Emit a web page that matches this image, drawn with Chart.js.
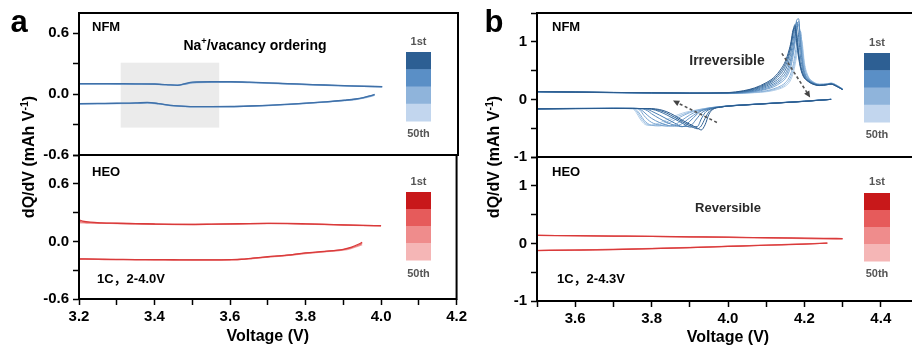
<!DOCTYPE html>
<html>
<head>
<meta charset="utf-8">
<script src="https://cdn.jsdelivr.net/npm/chart.js@4.4.1/dist/chart.umd.min.js"></script>
<style>
html, body { margin: 0; padding: 0; background: #fff; overflow: hidden; }
#wrap { position: relative; width: 912px; height: 349px; overflow: hidden; background: #fff; }
canvas { position: absolute; top: 0; }
</style>
</head>
<body>
<div id="wrap">
  <canvas id="aTop" width="470" height="175" style="left:0px"></canvas>
  <canvas id="aBot" width="470" height="349" style="left:0px"></canvas>
  <canvas id="bTop" width="470" height="175" style="left:460px"></canvas>
  <canvas id="bBot" width="470" height="349" style="left:460px"></canvas>
</div>
<script>
// ---------- (a) 2-4.0 V window ----------
const aVoltCharge = [3.20, 3.25, 3.30, 3.35, 3.40, 3.43, 3.46, 3.48, 3.50, 3.55, 3.60, 3.65, 3.70, 3.75, 3.80, 3.85, 3.90, 3.95, 4.00];
const aNfmCharge1  = [0.104, 0.104, 0.103, 0.102, 0.100, 0.094, 0.086, 0.104, 0.118, 0.122, 0.122, 0.118, 0.111, 0.104, 0.097, 0.090, 0.084, 0.078, 0.074];
const aNfmCharge25 = [0.101, 0.101, 0.100, 0.100, 0.098, 0.093, 0.088, 0.100, 0.115, 0.120, 0.120, 0.116, 0.109, 0.102, 0.095, 0.088, 0.082, 0.077, 0.073];
const aNfmCharge50 = [0.098, 0.098, 0.098, 0.097, 0.096, 0.092, 0.089, 0.097, 0.111, 0.117, 0.118, 0.114, 0.107, 0.100, 0.093, 0.087, 0.081, 0.076, 0.072];

const aVoltDischarge = [3.20, 3.25, 3.30, 3.35, 3.38, 3.41, 3.44, 3.48, 3.55, 3.60, 3.65, 3.70, 3.75, 3.80, 3.85, 3.90, 3.93, 3.95, 3.97, 3.98];
const aNfmDischarge1  = [-0.094, -0.092, -0.090, -0.087, -0.082, -0.093, -0.110, -0.120, -0.123, -0.122, -0.117, -0.110, -0.100, -0.089, -0.076, -0.060, -0.048, -0.034, -0.014, -0.003];
const aNfmDischarge25 = [-0.096, -0.094, -0.092, -0.089, -0.085, -0.094, -0.111, -0.121, -0.124, -0.123, -0.118, -0.111, -0.101, -0.090, -0.077, -0.062, -0.050, -0.037, -0.018, -0.006];
const aNfmDischarge50 = [-0.098, -0.096, -0.094, -0.091, -0.088, -0.096, -0.112, -0.122, -0.125, -0.124, -0.119, -0.112, -0.102, -0.091, -0.079, -0.064, -0.053, -0.040, -0.022, -0.010];

const aHeoVoltCharge = [3.20, 3.21, 3.23, 3.26, 3.30, 3.35, 3.40, 3.45, 3.50, 3.55, 3.60, 3.65, 3.70, 3.75, 3.80, 3.85, 3.90, 3.95, 4.00];
const aHeoCharge1  = [0.225, 0.212, 0.200, 0.193, 0.189, 0.185, 0.181, 0.178, 0.177, 0.179, 0.182, 0.186, 0.188, 0.187, 0.183, 0.178, 0.172, 0.167, 0.164];
const aHeoCharge25 = [0.208, 0.202, 0.195, 0.191, 0.187, 0.184, 0.180, 0.177, 0.176, 0.178, 0.181, 0.185, 0.187, 0.186, 0.182, 0.177, 0.171, 0.166, 0.163];
const aHeoCharge50 = [0.195, 0.193, 0.190, 0.188, 0.186, 0.183, 0.179, 0.176, 0.175, 0.177, 0.180, 0.184, 0.186, 0.185, 0.181, 0.176, 0.170, 0.165, 0.162];

const aHeoVoltDischarge = [3.20, 3.25, 3.30, 3.35, 3.40, 3.45, 3.50, 3.55, 3.60, 3.63, 3.66, 3.70, 3.75, 3.80, 3.85, 3.90, 3.92, 3.94, 3.95];
const aHeoDischarge1  = [-0.182, -0.185, -0.187, -0.189, -0.190, -0.191, -0.192, -0.192, -0.190, -0.186, -0.174, -0.160, -0.143, -0.120, -0.103, -0.082, -0.062, -0.030, -0.010];
const aHeoDischarge25 = [-0.184, -0.187, -0.189, -0.190, -0.191, -0.192, -0.193, -0.193, -0.191, -0.187, -0.176, -0.162, -0.145, -0.123, -0.106, -0.086, -0.068, -0.040, -0.022];
const aHeoDischarge50 = [-0.186, -0.188, -0.190, -0.191, -0.192, -0.193, -0.194, -0.194, -0.192, -0.188, -0.178, -0.164, -0.147, -0.126, -0.109, -0.090, -0.074, -0.050, -0.035];

// ---------- (b) 2-4.3 V window ----------
const bVoltCharge = [3.50, 3.60, 3.70, 3.80, 3.90, 4.00, 4.04, 4.07, 4.10, 4.12, 4.14, 4.15, 4.16, 4.165, 4.17, 4.175, 4.18, 4.185, 4.19, 4.195, 4.20, 4.21, 4.22, 4.24, 4.26, 4.27, 4.28, 4.30];
const bNfmCharge1  = [0.135, 0.128, 0.121, 0.115, 0.110, 0.118, 0.150, 0.200, 0.290, 0.380, 0.540, 0.660, 0.860, 1.000, 1.200, 1.240, 0.980, 0.720, 0.540, 0.430, 0.370, 0.310, 0.270, 0.240, 0.255, 0.265, 0.240, 0.170];
const bNfmCharge5  = [0.135, 0.128, 0.121, 0.115, 0.109, 0.115, 0.142, 0.188, 0.270, 0.355, 0.500, 0.620, 0.810, 0.960, 1.160, 1.280, 1.060, 0.770, 0.570, 0.450, 0.380, 0.315, 0.275, 0.242, 0.256, 0.266, 0.242, 0.171];
const bNfmCharge10 = [0.134, 0.127, 0.120, 0.114, 0.108, 0.112, 0.135, 0.175, 0.250, 0.330, 0.460, 0.570, 0.760, 0.920, 1.120, 1.300, 1.150, 0.820, 0.600, 0.470, 0.390, 0.320, 0.280, 0.245, 0.258, 0.268, 0.245, 0.172];
const bNfmCharge15 = [0.133, 0.126, 0.120, 0.113, 0.107, 0.110, 0.128, 0.162, 0.230, 0.300, 0.410, 0.510, 0.680, 0.820, 1.010, 1.220, 1.340, 1.080, 0.720, 0.530, 0.420, 0.330, 0.285, 0.248, 0.260, 0.270, 0.248, 0.173];
const bNfmCharge20 = [0.133, 0.126, 0.119, 0.113, 0.107, 0.108, 0.122, 0.150, 0.210, 0.270, 0.370, 0.450, 0.600, 0.720, 0.900, 1.120, 1.380, 1.400, 0.900, 0.600, 0.450, 0.340, 0.290, 0.250, 0.262, 0.272, 0.250, 0.175];
const bNfmCharge25 = [0.132, 0.125, 0.118, 0.112, 0.106, 0.106, 0.118, 0.142, 0.190, 0.245, 0.335, 0.400, 0.540, 0.650, 0.820, 1.030, 1.290, 1.350, 0.980, 0.650, 0.470, 0.350, 0.295, 0.252, 0.263, 0.274, 0.252, 0.176];
const bNfmCharge30 = [0.132, 0.125, 0.118, 0.112, 0.106, 0.105, 0.115, 0.135, 0.175, 0.220, 0.300, 0.360, 0.480, 0.580, 0.740, 0.950, 1.200, 1.300, 1.050, 0.700, 0.500, 0.360, 0.300, 0.255, 0.265, 0.275, 0.255, 0.178];
const bNfmCharge40 = [0.131, 0.124, 0.117, 0.111, 0.105, 0.103, 0.110, 0.125, 0.150, 0.185, 0.240, 0.290, 0.380, 0.460, 0.580, 0.760, 0.980, 1.150, 1.180, 0.820, 0.560, 0.380, 0.310, 0.260, 0.268, 0.280, 0.260, 0.180];
const bNfmCharge45 = [0.130, 0.123, 0.116, 0.110, 0.104, 0.102, 0.108, 0.120, 0.140, 0.170, 0.215, 0.258, 0.330, 0.400, 0.500, 0.660, 0.860, 1.040, 1.120, 0.880, 0.600, 0.390, 0.315, 0.262, 0.270, 0.282, 0.262, 0.181];
const bNfmCharge50 = [0.130, 0.123, 0.116, 0.110, 0.104, 0.101, 0.106, 0.116, 0.132, 0.155, 0.195, 0.230, 0.290, 0.350, 0.440, 0.580, 0.760, 0.940, 1.080, 0.950, 0.640, 0.400, 0.320, 0.265, 0.272, 0.285, 0.265, 0.182];

const bVoltDischarge = [3.50, 3.60, 3.70, 3.75, 3.76, 3.77, 3.78, 3.79, 3.80, 3.82, 3.84, 3.86, 3.88, 3.90, 3.92, 3.93, 3.94, 3.95, 3.96, 3.98, 4.00, 4.05, 4.10, 4.15, 4.20, 4.24, 4.27];
const bNfmDischarge1  = [-0.165, -0.160, -0.157, -0.157, -0.157, -0.158, -0.158, -0.159, -0.160, -0.175, -0.215, -0.280, -0.360, -0.430, -0.500, -0.530, -0.440, -0.260, -0.175, -0.135, -0.118, -0.095, -0.075, -0.055, -0.035, -0.015, 0.000];
const bNfmDischarge5  = [-0.164, -0.160, -0.157, -0.157, -0.157, -0.158, -0.158, -0.160, -0.165, -0.190, -0.240, -0.310, -0.385, -0.455, -0.510, -0.460, -0.330, -0.215, -0.165, -0.134, -0.117, -0.094, -0.074, -0.054, -0.034, -0.014, 0.000];
const bNfmDischarge10 = [-0.164, -0.159, -0.156, -0.156, -0.157, -0.158, -0.159, -0.162, -0.170, -0.210, -0.270, -0.340, -0.410, -0.480, -0.470, -0.340, -0.230, -0.180, -0.155, -0.132, -0.116, -0.094, -0.074, -0.054, -0.034, -0.014, 0.000];
const bNfmDischarge15 = [-0.163, -0.159, -0.156, -0.156, -0.157, -0.159, -0.163, -0.175, -0.205, -0.270, -0.340, -0.410, -0.470, -0.460, -0.320, -0.240, -0.195, -0.168, -0.150, -0.131, -0.115, -0.093, -0.073, -0.053, -0.033, -0.013, 0.000];
const bNfmDischarge20 = [-0.163, -0.158, -0.156, -0.156, -0.157, -0.160, -0.170, -0.200, -0.250, -0.330, -0.400, -0.450, -0.475, -0.380, -0.250, -0.200, -0.175, -0.158, -0.146, -0.130, -0.114, -0.093, -0.073, -0.053, -0.033, -0.013, 0.001];
const bNfmDischarge25 = [-0.162, -0.158, -0.155, -0.156, -0.158, -0.170, -0.220, -0.280, -0.330, -0.400, -0.450, -0.465, -0.420, -0.320, -0.230, -0.192, -0.172, -0.156, -0.144, -0.129, -0.114, -0.092, -0.072, -0.052, -0.032, -0.012, 0.001];
const bNfmDischarge30 = [-0.162, -0.157, -0.155, -0.156, -0.160, -0.190, -0.280, -0.350, -0.400, -0.445, -0.465, -0.440, -0.360, -0.270, -0.205, -0.185, -0.168, -0.154, -0.143, -0.128, -0.113, -0.092, -0.072, -0.052, -0.032, -0.012, 0.001];
const bNfmDischarge40 = [-0.161, -0.156, -0.155, -0.158, -0.180, -0.260, -0.360, -0.420, -0.450, -0.460, -0.430, -0.360, -0.290, -0.230, -0.190, -0.175, -0.162, -0.150, -0.140, -0.126, -0.112, -0.091, -0.071, -0.051, -0.031, -0.011, 0.002];
const bNfmDischarge45 = [-0.160, -0.156, -0.155, -0.160, -0.200, -0.300, -0.390, -0.440, -0.450, -0.440, -0.390, -0.320, -0.265, -0.218, -0.185, -0.171, -0.159, -0.148, -0.139, -0.125, -0.111, -0.090, -0.070, -0.050, -0.030, -0.010, 0.002];
const bNfmDischarge50 = [-0.160, -0.155, -0.155, -0.165, -0.230, -0.340, -0.420, -0.450, -0.445, -0.410, -0.350, -0.290, -0.240, -0.205, -0.180, -0.168, -0.157, -0.147, -0.138, -0.125, -0.111, -0.090, -0.070, -0.050, -0.030, -0.010, 0.002];

const bHeoVoltCharge = [3.50, 3.60, 3.70, 3.80, 3.90, 4.00, 4.10, 4.20, 4.25, 4.30];
const bHeoCharge1  = [0.140, 0.134, 0.128, 0.122, 0.115, 0.108, 0.100, 0.092, 0.088, 0.085];
const bHeoCharge25 = [0.139, 0.133, 0.127, 0.121, 0.114, 0.106, 0.097, 0.087, 0.082, 0.078];
const bHeoCharge50 = [0.138, 0.132, 0.126, 0.120, 0.112, 0.104, 0.094, 0.082, 0.076, 0.072];

const bHeoVoltDischarge = [3.50, 3.60, 3.70, 3.80, 3.90, 4.00, 4.10, 4.20, 4.26];
const bHeoDischarge1  = [-0.125, -0.117, -0.107, -0.092, -0.074, -0.053, -0.032, -0.012, 0.004];
const bHeoDischarge25 = [-0.123, -0.115, -0.105, -0.090, -0.072, -0.051, -0.030, -0.010, 0.005];
const bHeoDischarge50 = [-0.121, -0.113, -0.103, -0.088, -0.070, -0.049, -0.028, -0.008, 0.006];

// cycle colour ramps (1st -> 50th)
const blueBar = ['#2d5f93', '#5a8fc6', '#8fb4db', '#c2d6ee'];
const redBar  = ['#c8181a', '#e65b5b', '#ef8c8c', '#f5b6b6'];
const blue3 = ['#3f70a8', '#6f9acb', '#9dbde0'];
const red3  = ['#d93a3a', '#e86c6c', '#f2a4a4'];
const blue10 = ['#2a5a8d', '#336698', '#3d72a5', '#4a7eb1', '#578abc', '#6696c6', '#76a3cf', '#88b0d8', '#9cbfe1', '#b4cfe9'];

const FONT = '"Liberation Sans", Arial, "Noto Sans CJK SC", sans-serif';
Chart.defaults.font.family = FONT;
Chart.defaults.font.weight = 'bold';
Chart.defaults.color = '#000';

function pts(xs, ys) { return xs.map((x, i) => ({ x: x, y: ys[i] })); }
function series(xs, list, colors, width) {
  return list.map((ys, i) => ({
    data: pts(xs, ys), borderColor: colors[i], borderWidth: width,
    pointRadius: 0, fill: false, cubicInterpolationMode: 'monotone'
  }));
}

// rich text: segments may be raised as superscripts
function drawRich(ctx, segs, x, y, size, color, align, rot) {
  const parts = segs.map(g => {
    const fs = g.sup ? size * 0.66 : size;
    ctx.font = 'bold ' + fs + 'px ' + FONT;
    return { g: g, fs: fs, w: ctx.measureText(g.s).width };
  });
  const total = parts.reduce((s, p) => s + p.w, 0);
  let cx = align === 'center' ? -total / 2 : (align === 'right' ? -total : 0);
  ctx.save();
  ctx.translate(x, y);
  if (rot) ctx.rotate(rot);
  ctx.fillStyle = color;
  ctx.textAlign = 'left';
  ctx.textBaseline = 'alphabetic';
  for (const p of parts) {
    ctx.font = 'bold ' + p.fs + 'px ' + FONT;
    ctx.fillText(p.g.s, cx, p.g.sup ? -size * 0.4 : 0);
    cx += p.w;
  }
  ctx.restore();
}

function arrow(ctx, x1, y1, x2, y2) {
  const ang = Math.atan2(y2 - y1, x2 - x1), head = 7;
  ctx.save();
  ctx.strokeStyle = '#555'; ctx.fillStyle = '#444'; ctx.lineWidth = 1.6;
  ctx.setLineDash([3, 2.5]);
  ctx.beginPath();
  ctx.moveTo(x1, y1);
  ctx.lineTo(x2 - Math.cos(ang) * head * 0.8, y2 - Math.sin(ang) * head * 0.8);
  ctx.stroke();
  ctx.setLineDash([]);
  ctx.beginPath();
  ctx.moveTo(x2, y2);
  ctx.lineTo(x2 - head * Math.cos(ang - 0.45), y2 - head * Math.sin(ang - 0.45));
  ctx.lineTo(x2 - head * Math.cos(ang + 0.45), y2 - head * Math.sin(ang + 0.45));
  ctx.closePath();
  ctx.fill();
  ctx.restore();
}

const decor = {
  id: 'decor',
  beforeDatasetsDraw(chart, args, o) {
    if (!o.box) return;
    const ctx = chart.ctx, xs = chart.scales.x, ys = chart.scales.y;
    const l = xs.getPixelForValue(o.box.x0), r = xs.getPixelForValue(o.box.x1);
    const t = ys.getPixelForValue(o.box.y1), b = ys.getPixelForValue(o.box.y0);
    ctx.save();
    ctx.fillStyle = '#ebebeb';
    ctx.fillRect(l, t, r - l, b - t);
    ctx.restore();
  },
  afterDraw(chart, args, o) {
    const ctx = chart.ctx, a = chart.chartArea, dx = o.dx || 0;
    ctx.save();
    ctx.strokeStyle = '#000';
    ctx.lineWidth = 2;
    ctx.strokeRect(a.left, a.top, a.right - a.left, a.bottom - a.top);
    ctx.restore();
    if (o.bar) {
      const bh = o.bar.h / o.bar.colors.length;
      o.bar.colors.forEach((c, i) => {
        ctx.fillStyle = c;
        ctx.fillRect(o.bar.x - dx, o.bar.y + i * bh, o.bar.w, bh + 0.5);
      });
    }
    (o.arrows || []).forEach(ar => {
      const xs = chart.scales.x, ys = chart.scales.y;
      arrow(ctx, xs.getPixelForValue(ar.from[0]), ys.getPixelForValue(ar.from[1]),
                 xs.getPixelForValue(ar.to[0]), ys.getPixelForValue(ar.to[1]));
    });
    (o.texts || []).forEach(t => {
      drawRich(ctx, t.segs, t.x - dx, t.y, t.size, t.color || '#000', t.align || 'left', t.rot || 0);
    });
  }
};

function makePanel(id, opt) {
  const xTicks = {
    stepSize: 0.1, autoSkip: false, maxRotation: 0, padding: 3,
    font: { size: 15, weight: 'bold' }, color: '#000',
    callback: v => { const k = Math.round(v * 10); return k % 2 === 0 ? (k / 10).toFixed(1) : ''; }
  };
  return new Chart(document.getElementById(id), {
    type: 'line',
    data: { datasets: opt.datasets },
    options: {
      responsive: false, animation: false, devicePixelRatio: 1,
      layout: { padding: opt.padding },
      plugins: { legend: { display: false }, tooltip: { enabled: false }, decor: opt.decor },
      scales: {
        x: {
          type: 'linear', min: opt.xMin, max: opt.xMax, display: opt.showX,
          afterFit: s => { s.height = opt.xHeight || 0; },
          ticks: xTicks,
          grid: { display: true, drawOnChartArea: false, drawTicks: true, tickLength: 6, tickWidth: 1.5, tickColor: '#000' },
          border: { display: false },
          title: { display: true, text: 'Voltage (V)', color: '#000', font: { size: 16, weight: 'bold' }, padding: { top: 0, bottom: opt.titlePad || 3 } }
        },
        y: {
          type: 'linear', min: opt.yMin, max: opt.yMax,
          afterFit: s => { s.width = opt.yWidth; },
          ticks: {
            stepSize: opt.yStep, includeBounds: false, autoSkip: false, padding: 4,
            font: { size: 15, weight: 'bold' }, color: '#000', callback: opt.yLabel
          },
          grid: { display: true, drawOnChartArea: false, drawTicks: true, tickLength: 6, tickWidth: 1.5, tickColor: '#000' },
          border: { display: false }
        }
      }
    },
    plugins: [decor]
  });
}

const aYLabel = v => { const k = Math.round(v / 0.3); return k % 2 === 0 ? v.toFixed(1) : ''; };
const bYLabel = v => { const k = Math.round(v * 2); return k % 2 === 0 ? String(Math.round(v)) : ''; };
const gray = '#555';

// (a) NFM
makePanel('aTop', {
  datasets: series(aVoltCharge, [aNfmCharge1, aNfmCharge25, aNfmCharge50], blue3, 1.3)
    .concat(series(aVoltDischarge, [aNfmDischarge1, aNfmDischarge25, aNfmDischarge50], blue3, 1.3)),
  xMin: 3.2, xMax: 4.2, yMin: -0.6, yMax: 0.8, yStep: 0.3, yLabel: aYLabel,
  showX: false, yWidth: 79, padding: { top: 13, right: 12, bottom: 20, left: 0 },
  decor: {
    dx: 0,
    box: { x0: 3.31, x1: 3.57, y0: -0.33, y1: 0.31 },
    bar: { x: 406, y: 52, w: 25, h: 69, colors: blueBar },
    texts: [
      { segs: [{ s: 'NFM' }], x: 92, y: 31, size: 13 },
      { segs: [{ s: 'Na' }, { s: '+', sup: true }, { s: '/vacancy ordering' }], x: 255, y: 50, size: 14, align: 'center' },
      { segs: [{ s: '1st' }], x: 418.5, y: 45, size: 11, align: 'center', color: gray },
      { segs: [{ s: '50th' }], x: 418.5, y: 137, size: 11, align: 'center', color: gray }
    ]
  }
});

// (a) HEO
makePanel('aBot', {
  datasets: series(aHeoVoltCharge, [aHeoCharge1, aHeoCharge25, aHeoCharge50], red3, 1.3)
    .concat(series(aHeoVoltDischarge, [aHeoDischarge1, aHeoDischarge25, aHeoDischarge50], red3, 1.3)),
  xMin: 3.2, xMax: 4.2, yMin: -0.6, yMax: 0.9, yStep: 0.3, yLabel: aYLabel,
  showX: true, xHeight: 50, titlePad: 3, yWidth: 79, padding: { top: 155, right: 12, bottom: 0, left: 0 },
  decor: {
    dx: 0,
    bar: { x: 406, y: 192, w: 25, h: 68, colors: redBar },
    texts: [
      { segs: [{ s: 'a' }], x: 19, y: 32, size: 31, align: 'center' },
      { segs: [{ s: 'dQ/dV (mAh V' }, { s: '-1', sup: true }, { s: ')' }], x: 34, y: 157, size: 16, align: 'center', rot: -Math.PI / 2 },
      { segs: [{ s: 'HEO' }], x: 92, y: 176, size: 13 },
      { segs: [{ s: '1st' }], x: 418.5, y: 185, size: 11, align: 'center', color: gray },
      { segs: [{ s: '50th' }], x: 418.5, y: 277, size: 11, align: 'center', color: gray },
      { segs: [{ s: '1C，2-4.0V' }], x: 97, y: 283, size: 13 }
    ]
  }
});

// (b) NFM
makePanel('bTop', {
  datasets: series(bVoltCharge, [bNfmCharge1, bNfmCharge5, bNfmCharge10, bNfmCharge15, bNfmCharge20, bNfmCharge25, bNfmCharge30, bNfmCharge40, bNfmCharge45, bNfmCharge50], blue10, 1.0)
    .concat(series(bVoltDischarge, [bNfmDischarge1, bNfmDischarge5, bNfmDischarge10, bNfmDischarge15, bNfmDischarge20, bNfmDischarge25, bNfmDischarge30, bNfmDischarge40, bNfmDischarge45, bNfmDischarge50], blue10, 1.0)),
  xMin: 3.5, xMax: 4.5, yMin: -1, yMax: 1.5, yStep: 0.5, yLabel: bYLabel,
  showX: false, yWidth: 77, padding: { top: 13, right: 11, bottom: 18, left: 0 },
  decor: {
    dx: 460,
    bar: { x: 864, y: 53, w: 26, h: 69, colors: blueBar },
    arrows: [
      { from: [3.971, -0.40], to: [3.856, -0.02] },
      { from: [4.141, 0.80], to: [4.215, 0.035] }
    ],
    texts: [
      { segs: [{ s: 'NFM' }], x: 552, y: 31, size: 13 },
      { segs: [{ s: 'Irreversible' }], x: 727, y: 65, size: 14, align: 'center', color: '#2a2a2a' },
      { segs: [{ s: '1st' }], x: 877, y: 46, size: 11, align: 'center', color: gray },
      { segs: [{ s: '50th' }], x: 877, y: 138, size: 11, align: 'center', color: gray }
    ]
  }
});

// (b) HEO
makePanel('bBot', {
  datasets: series(bHeoVoltCharge, [bHeoCharge1, bHeoCharge25, bHeoCharge50], red3, 1.2)
    .concat(series(bHeoVoltDischarge, [bHeoDischarge1, bHeoDischarge25, bHeoDischarge50], red3, 1.2)),
  xMin: 3.5, xMax: 4.5, yMin: -1, yMax: 1.5, yStep: 0.5, yLabel: bYLabel,
  showX: true, xHeight: 48, titlePad: 2, yWidth: 77, padding: { top: 157, right: 11, bottom: 0, left: 0 },
  decor: {
    dx: 460,
    bar: { x: 864, y: 193, w: 26, h: 68, colors: redBar },
    texts: [
      { segs: [{ s: 'b' }], x: 494, y: 32, size: 31, align: 'center' },
      { segs: [{ s: 'dQ/dV (mAh V' }, { s: '-1', sup: true }, { s: ')' }], x: 499, y: 157, size: 16, align: 'center', rot: -Math.PI / 2 },
      { segs: [{ s: 'HEO' }], x: 552, y: 176, size: 13 },
      { segs: [{ s: 'Reversible' }], x: 728, y: 212, size: 13, align: 'center', color: '#2a2a2a' },
      { segs: [{ s: '1st' }], x: 877, y: 185, size: 11, align: 'center', color: gray },
      { segs: [{ s: '50th' }], x: 877, y: 277, size: 11, align: 'center', color: gray },
      { segs: [{ s: '1C，2-4.3V' }], x: 557, y: 283, size: 13 }
    ]
  }
});
</script>
</body>
</html>
